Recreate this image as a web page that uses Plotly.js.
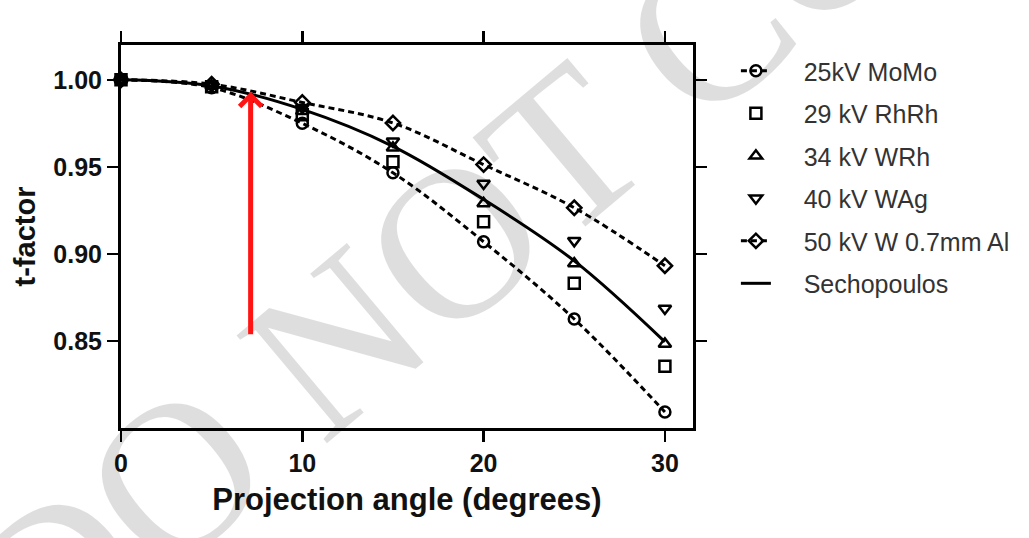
<!DOCTYPE html>
<html>
<head>
<meta charset="utf-8">
<script src="https://cdn.plot.ly/plotly-3.0.1.min.js"></script>
<style>html,body{margin:0;padding:0;background:#fff;}#chart{width:1029px;height:538px;}</style>
</head>
<body>
<div id="chart"></div>
<script>
const angles = [0, 5, 10, 15, 20, 25, 30];
const moMo25 = [1.000, 0.9955, 0.975, 0.9466, 0.907, 0.8626, 0.8092];
const rhRh29 = [1.000, 0.996, 0.980, 0.953, 0.9185, 0.8832, 0.8355];
const wRh34 = [1.000, 0.9965, 0.982, 0.961, 0.929, 0.8945, 0.8483];
const wAg40 = [1.000, 0.997, 0.984, 0.9647, 0.9405, 0.9075, 0.8687];
const wAl50 = [1.000, 0.9975, 0.987, 0.9752, 0.9513, 0.9265, 0.8932];
const sechopoulos = [1.000, 0.9965, 0.983, 0.9618, 0.9313, 0.896, 0.8495];
const seriesNames = ['25kV MoMo', '29 kV RhRh', '34 kV WRh', '40 kV WAg', '50 kV W 0.7mm Al', 'Sechopoulos'];
const xTicks = [0, 10, 20, 30];
const yTicks = [0.85, 0.90, 0.95, 1.00];
const arrowX = 7.15, arrowTip = 0.993, arrowBase = 0.853;
const watermark = 'DO NOT COPY';

const pad = '\u00a0\u00a0\u00a0\u00a0';
const dashLine = {color: '#000', width: 3, dash: '6px,4px', shape: 'spline'};
const mk = (sym) => ({symbol: sym, size: 11, color: '#000', line: {color: '#000', width: 2.5}});

const traces = [
  {x: angles, y: moMo25, name: pad + seriesNames[0], mode: 'lines+markers', line: dashLine, marker: mk('circle-open'), legendgroup: 'a', cliponaxis: false},
  {x: angles, y: rhRh29, name: pad + seriesNames[1], mode: 'markers', marker: mk('square-open'), legendgroup: 'b', cliponaxis: false},
  {x: angles, y: wRh34, name: pad + seriesNames[2], mode: 'markers', marker: mk('triangle-up-open'), legendgroup: 'c', cliponaxis: false},
  {x: angles, y: wAg40, name: pad + seriesNames[3], mode: 'markers', marker: mk('triangle-down-open'), legendgroup: 'd', cliponaxis: false},
  {x: angles, y: wAl50, name: pad + seriesNames[4], mode: 'lines+markers', line: dashLine, marker: mk('diamond-open'), legendgroup: 'e', cliponaxis: false},
  {x: angles, y: sechopoulos, name: pad + seriesNames[5], mode: 'lines', line: {color: '#000', width: 3, shape: 'spline'}, legendgroup: 'f', cliponaxis: false}
];

const axisCommon = {
  showline: true, linecolor: '#000', linewidth: 3, mirror: 'ticks',
  ticks: 'outside', ticklen: 11, tickwidth: 2.5, tickcolor: '#000',
  showgrid: false, zeroline: false,
  tickfont: {family: 'Liberation Sans, Arial, sans-serif', size: 25, color: '#111', weight: 'bold'}
};

const layout = {
  width: 1029, height: 538,
  margin: {l: 121, r: 336, t: 45, b: 110},
  paper_bgcolor: '#fff', plot_bgcolor: '#fff',
  font: {family: 'Liberation Sans, Arial, sans-serif', color: '#111'},
  xaxis: Object.assign({}, axisCommon, {
    range: [0, 31.55], tickvals: xTicks,
    title: {text: '<b>Projection angle (degrees)</b>', font: {size: 31, color: '#111'}, standoff: 13}
  }),
  yaxis: Object.assign({}, axisCommon, {
    range: [0.80, 1.02], tickvals: yTicks, tickformat: '.2f',
    title: {text: '<b>t-factor</b>', font: {size: 29, color: '#111'}, standoff: 10}
  }),
  showlegend: true,
  legend: {
    x: 1.075, y: 0.992, xanchor: 'left', yanchor: 'top',
    traceorder: 'grouped', tracegroupgap: 7,
    font: {family: 'Liberation Sans, Arial, sans-serif', size: 25, color: '#333'},
    bgcolor: 'rgba(0,0,0,0)'
  },
  annotations: [
    {text: watermark, xref: 'paper', yref: 'paper', x: 0.7395, y: 0.684, xanchor: 'center', yanchor: 'middle', showarrow: false,
     textangle: -40, font: {family: 'Liberation Serif, Times New Roman, serif', size: 215, color: 'rgba(0,0,0,0.13)'}},
    {x: arrowX, y: arrowTip, ax: arrowX, ay: arrowBase, xref: 'x', yref: 'y', axref: 'x', ayref: 'y',
     text: '', showarrow: true, arrowhead: 4, arrowsize: 0.85, arrowwidth: 5, arrowcolor: 'rgb(255,20,20)', standoff: 0}
  ]
};

Plotly.newPlot('chart', traces, layout, {displayModeBar: false, staticPlot: true});
</script>
</body>
</html>
